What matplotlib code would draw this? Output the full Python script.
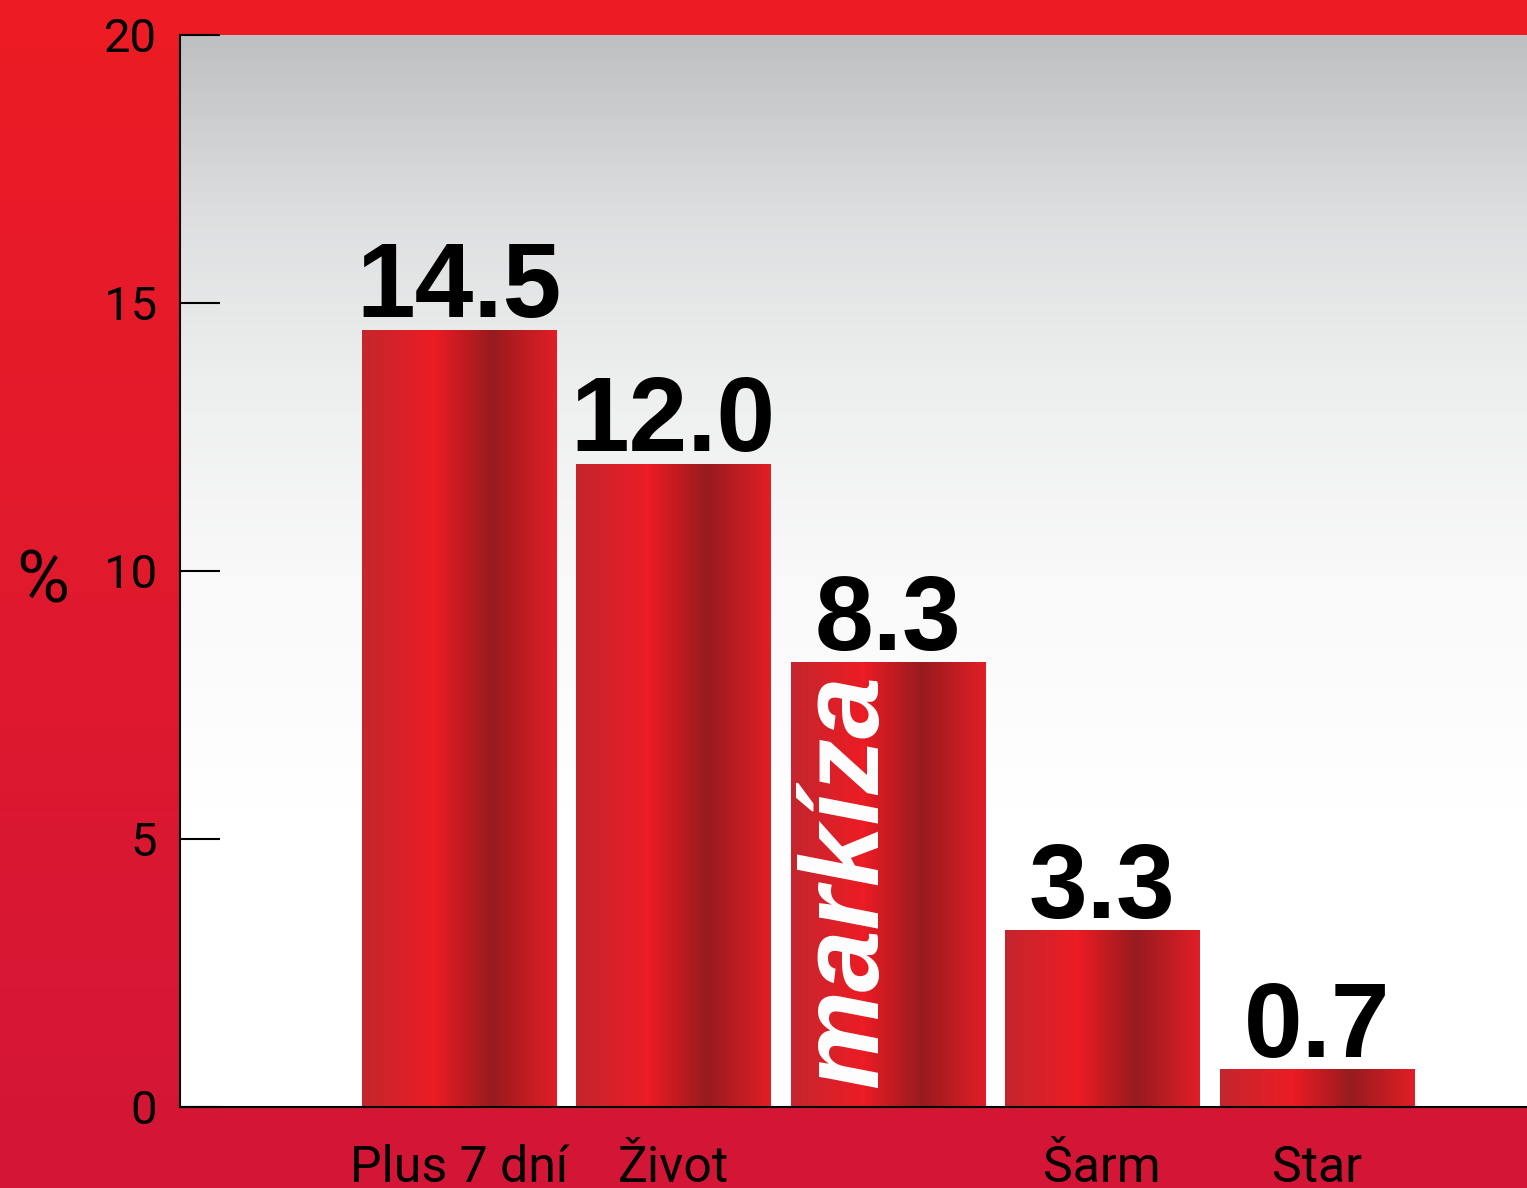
"""
Readership bar chart (Slovak magazines) with red gradient styling
"""

import numpy as np
import matplotlib as mpl
import matplotlib.pyplot as plt
from matplotlib.colors import LinearSegmentedColormap


# data
CATEGORIES = ['Plus 7 dní', 'Život', '', 'Šarm', 'Star']
VALUES = [14.5, 12.0, 8.3, 3.3, 0.7]
VALUE_LABELS = ['14.5', '12.0', '8.3', '3.3', '0.7']
LOGO_TEXT = 'markíza'
LOGO_INDEX = 2
Y_TICKS = [0, 5, 10, 15, 20]
Y_LABEL = '%'

# colours
BG_TOP = '#ED1C24'
BG_BOTTOM = '#D31637'
PLOT_STOPS = [(0.0, '#BFC0C2'), (0.17, '#DEDFE0'), (0.32, '#EDEEEE'),
              (0.5, '#F9F9F9'), (0.72, '#FFFFFF'), (1.0, '#FFFFFF')]
BAR_STOPS = [(0.0, '#C4262E'), (0.37, '#EC1C24'), (0.67, '#971B1F'),
             (1.0, '#E21E26')]

LIGHT_FONT = ['Roboto', 'DejaVu Sans']
NARROW_BOLD = ['Liberation Sans Narrow', 'Liberation Sans', 'DejaVu Sans']

mpl.rcParams.update({
    'figure.dpi':        100,
    'savefig.dpi':       100,
    'axes.linewidth':    1.5,
    'axes.edgecolor':    'black',
    'font.family':       LIGHT_FONT,
})

W, H = 1527, 1188
fig = plt.figure(figsize=(W / 100, H / 100))

# figure background: vertical red gradient
bg = fig.add_axes([0, 0, 1, 1])
bg_cmap = LinearSegmentedColormap.from_list('bg', [BG_TOP, BG_BOTTOM])
bg.imshow(np.linspace(0, 1, 256).reshape(-1, 1), cmap=bg_cmap,
          aspect='auto', extent=[0, 1, 0, 1])
bg.axis('off')

# main axes in pixel box: x 180..1527, y 35..1107
ax = fig.add_axes([180 / W, 1 - 1107 / H, 1347 / W, 1072 / H])
ax.set_facecolor('none')

x = np.arange(len(VALUES))
width = 0.905
xlim = (-1.30, len(VALUES) - 1 + 0.98)
ylim = (0, 20)

# plot area: grey-to-white gradient
plot_cmap = LinearSegmentedColormap.from_list('plot', PLOT_STOPS)
ax.imshow(np.linspace(0, 1, 256).reshape(-1, 1), cmap=plot_cmap,
          aspect='auto', extent=[xlim[0], xlim[1], ylim[0], ylim[1]], zorder=0)

bars = ax.bar(x, VALUES, width=width, color='none', edgecolor='none', zorder=2)
bar_cmap = LinearSegmentedColormap.from_list('bar', BAR_STOPS)
grad = np.linspace(0, 1, 256).reshape(1, -1)
for b in bars:
    x0 = b.get_x()
    im = ax.imshow(grad, cmap=bar_cmap, aspect='auto', zorder=2,
                   extent=[x0, x0 + b.get_width(), 0, b.get_height()])
    im.set_clip_path(b)

# value labels
for xi, v, lab in zip(x, VALUES, VALUE_LABELS):
    ax.annotate(lab, (xi, v), xytext=(0, 9), textcoords='offset points',
                ha='center', va='baseline', fontsize=76, fontweight='bold',
                family=NARROW_BOLD, color='black', zorder=3)

# logo inside the third bar
ax.text(LOGO_INDEX - 0.05, 0.35, LOGO_TEXT, rotation=90, rotation_mode='anchor',
        ha='left', va='baseline', fontsize=80, fontweight='bold',
        fontstyle='italic', family=['Liberation Sans', 'DejaVu Sans'],
        color='white', zorder=4)

ax.set_xlim(*xlim)
ax.set_ylim(*ylim)
ax.set_xticks(x)
ax.set_xticklabels(CATEGORIES)
ax.set_yticks(Y_TICKS)
ax.set_yticklabels([str(t) for t in Y_TICKS])

ax.tick_params(axis='y', direction='in', length=28.8, width=1.5, pad=16.5,
               labelsize=34, colors='black')
ax.tick_params(axis='x', length=0, pad=27, labelsize=36, colors='black')

for side in ['top', 'right']:
    ax.spines[side].set_visible(False)
ax.spines['left'].set_zorder(5)
ax.spines['bottom'].set_zorder(5)

fig.text(43 / W, 1 - 583 / H, Y_LABEL, ha='center', va='center',
         fontsize=52, color='black')

fig.savefig('out.png', dpi=100)
